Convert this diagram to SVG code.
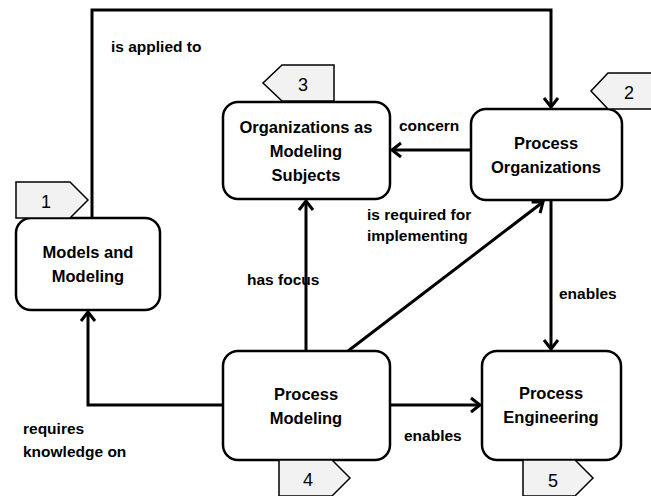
<svg xmlns="http://www.w3.org/2000/svg" width="651" height="496" viewBox="0 0 651 496">
<style>
.box{fill:#fff;stroke:#000;stroke-width:2.5}
.tag{fill:#f2f2f2;stroke:#000;stroke-width:1.5}
.node{font-family:"Liberation Sans",Arial,sans-serif;font-weight:bold;font-size:16.5px;fill:#000;text-anchor:middle}
.num{font-family:"Liberation Sans",Arial,sans-serif;font-size:18px;fill:#000;text-anchor:middle}
.lbl{font-family:"Liberation Sans",Arial,sans-serif;font-weight:bold;font-size:15.5px;fill:#000}
.conn{fill:none;stroke:#000;stroke-width:3}
</style>
<defs>
<marker id="arr" markerUnits="userSpaceOnUse" markerWidth="20" markerHeight="20" viewBox="-12 -10 14 20" refX="0" refY="0" orient="auto">
<path d="M-9,-7 L0,0 L-9,7" fill="none" stroke="#000" stroke-width="3"/>
</marker>
</defs>
<g id="connectors">
<path class="conn" d="M92,218 V10 H551 V107" marker-end="url(#arr)"/>
<path class="conn" d="M471,150 H392" marker-end="url(#arr)"/>
<path class="conn" d="M306,351 V201" marker-end="url(#arr)"/>
<path class="conn" d="M348,351 L543,202" marker-end="url(#arr)"/>
<path class="conn" d="M551,200 V349" marker-end="url(#arr)"/>
<path class="conn" d="M390,405 H480" marker-end="url(#arr)"/>
<path class="conn" d="M223,405 H88 V312" marker-end="url(#arr)"/>
<text class="lbl" x="111" y="52">is applied to</text>
<text class="lbl" x="399" y="131">concern</text>
<text class="lbl" x="367" y="220">is required for</text>
<text class="lbl" x="367" y="241">implementing</text>
<text class="lbl" x="247" y="285">has focus</text>
<text class="lbl" x="559" y="299">enables</text>
<text class="lbl" x="404" y="441">enables</text>
<text class="lbl" x="23" y="434">requires</text>
<text class="lbl" x="23" y="457">knowledge on</text>
</g>
<g id="models">
<rect class="box" x="16" y="218" width="144" height="92" rx="15"/>
<text class="node" x="88" y="258">Models and</text>
<text class="node" x="88" y="282">Modeling</text>
<polygon class="tag" points="16,182 70,182 88,200 70,218 16,218"/>
<text class="num" x="46" y="208">1</text>
</g>
<g id="orgsubjects">
<rect class="box" x="223" y="102" width="167" height="97" rx="15"/>
<text class="node" x="306" y="133">Organizations as</text>
<text class="node" x="306" y="157">Modeling</text>
<text class="node" x="306" y="181">Subjects</text>
<polygon class="tag" points="282,65 334,65 334,101 282,101 263,83"/>
<text class="num" x="303" y="91">3</text>
</g>
<g id="processorg">
<rect class="box" x="471" y="109" width="151" height="91" rx="15"/>
<text class="node" x="546" y="149">Process</text>
<text class="node" x="546" y="173">Organizations</text>
<polygon class="tag" points="608,73 653,73 653,109 608,109 591,91"/>
<text class="num" x="629" y="99">2</text>
</g>
<g id="processmodeling">
<rect class="box" x="223" y="351" width="167" height="109" rx="15"/>
<text class="node" x="306" y="400">Process</text>
<text class="node" x="306" y="424">Modeling</text>
<polygon class="tag" points="279,460 332,460 350,478 332,496 279,496"/>
<text class="num" x="308" y="486">4</text>
</g>
<g id="processeng">
<rect class="box" x="482" y="351" width="139" height="109" rx="15"/>
<text class="node" x="551" y="399">Process</text>
<text class="node" x="551" y="423">Engineering</text>
<polygon class="tag" points="523,460 575,460 593,478 575,496 523,496"/>
<text class="num" x="553" y="487">5</text>
</g>
</svg>
